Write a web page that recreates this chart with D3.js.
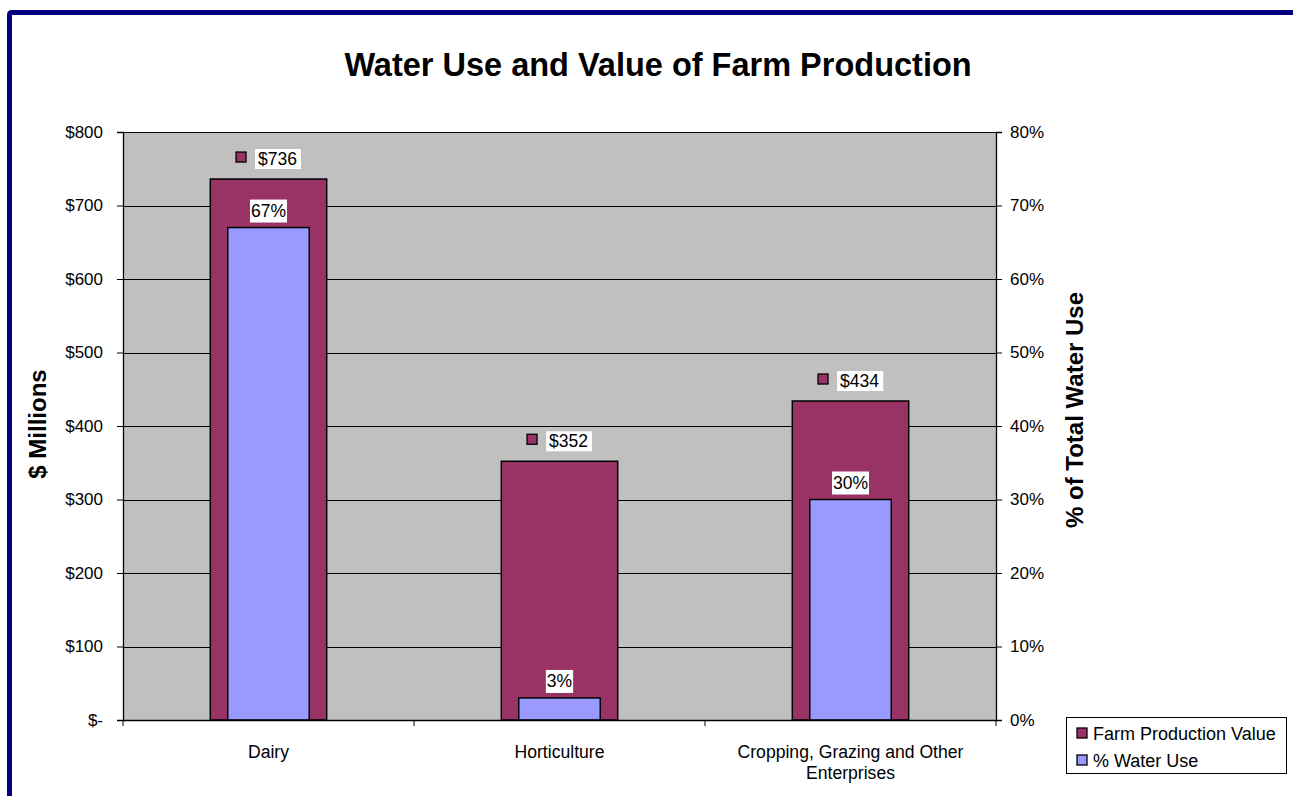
<!DOCTYPE html>
<html>
<head>
<meta charset="utf-8">
<script src="https://cdn.jsdelivr.net/npm/d3@7"></script>
<style>
  html, body { margin: 0; padding: 0; background: #ffffff; overflow: hidden; }
  svg { display: block; font-family: "Liberation Sans", Arial, sans-serif; }
</style>
</head>
<body>
<svg id="chart" width="1293" height="796"></svg>
<script>
// Farm production value ($ millions) and share of total water use, by enterprise
const categories = ["Dairy", "Horticulture", "Cropping, Grazing and Other Enterprises"];
const categoryLines = [["Dairy"], ["Horticulture"], ["Cropping, Grazing and Other", "Enterprises"]];
const productionValue = [736, 352, 434];
const waterUse = [0.67, 0.03, 0.30];
const leftTicks = [0, 100, 200, 300, 400, 500, 600, 700, 800];
const leftTickLabels = ["$-", "$100", "$200", "$300", "$400", "$500", "$600", "$700", "$800"];
const rightTicks = [0, 0.1, 0.2, 0.3, 0.4, 0.5, 0.6, 0.7, 0.8];
const seriesNames = ["Farm Production Value", "% Water Use"];

const colors = { value: "#993366", water: "#9999FF", plot: "#C0C0C0", frame: "#000080" };

const svg = d3.select("#chart");
const plot = { left: 123, right: 996, top: 132, bottom: 720 };

// outer frame
svg.append("rect")
  .attr("x", 9.5).attr("y", 12.5)
  .attr("width", 1400).attr("height", 900)
  .attr("rx", 2)
  .attr("fill", "#ffffff")
  .attr("stroke", colors.frame).attr("stroke-width", 5);

const x = d3.scaleBand().domain(categories).range([plot.left, plot.right]).padding(0);
const yL = d3.scaleLinear().domain([0, 800]).range([plot.bottom, plot.top]);
const yR = d3.scaleLinear().domain([0, 0.8]).range([plot.bottom, plot.top]);

// plot background
svg.append("rect")
  .attr("x", plot.left).attr("y", plot.top)
  .attr("width", plot.right - plot.left).attr("height", plot.bottom - plot.top)
  .attr("fill", colors.plot);

// gridlines
svg.append("g")
  .selectAll("line")
  .data(leftTicks.slice(1))
  .join("line")
  .attr("x1", plot.left).attr("x2", plot.right)
  .attr("y1", d => Math.round(yL(d)) + 0.5).attr("y2", d => Math.round(yL(d)) + 0.5)
  .attr("stroke", "#000").attr("stroke-width", 1);

// production value bars
const outerW = x.bandwidth() * 0.4;
svg.append("g")
  .selectAll("rect")
  .data(categories)
  .join("rect")
  .attr("x", d => x(d) + x.bandwidth() / 2 - outerW / 2)
  .attr("y", (d, i) => yL(productionValue[i]))
  .attr("width", outerW)
  .attr("height", (d, i) => yL(0) - yL(productionValue[i]))
  .attr("fill", colors.value)
  .attr("stroke", "#000").attr("stroke-width", 1.5);

// water use bars (secondary axis)
const innerW = x.bandwidth() * 0.28;
svg.append("g")
  .selectAll("rect")
  .data(categories)
  .join("rect")
  .attr("x", d => x(d) + x.bandwidth() / 2 - innerW / 2)
  .attr("y", (d, i) => yR(waterUse[i]))
  .attr("width", innerW)
  .attr("height", (d, i) => yR(0) - yR(waterUse[i]))
  .attr("fill", colors.water)
  .attr("stroke", "#000").attr("stroke-width", 1.5);

// axes
const leftAxis = d3.axisLeft(yL).tickValues(leftTicks)
  .tickFormat((d, i) => leftTickLabels[i]).tickSize(6).tickPadding(14);
const gL = svg.append("g").attr("transform", `translate(${plot.left},0)`).call(leftAxis);

const rightAxis = d3.axisRight(yR).tickValues(rightTicks)
  .tickFormat(d3.format(".0%")).tickSize(6).tickPadding(8);
const gR = svg.append("g").attr("transform", `translate(${plot.right},0)`).call(rightAxis);

const bottomAxis = d3.axisBottom(x).tickSize(0).tickFormat("");
const gB = svg.append("g").attr("transform", `translate(0,${plot.bottom})`).call(bottomAxis);

[gL, gR, gB].forEach(g => {
  g.select(".domain").attr("stroke", "#000").attr("stroke-width", 1.3);
  g.selectAll(".tick line").attr("stroke", "#000");
  g.selectAll("text").attr("font-size", 17).attr("fill", "#000")
    .attr("font-family", "'Liberation Sans', Arial, sans-serif");
});

// category tick marks at band edges
svg.append("g")
  .selectAll("line")
  .data(categories.concat(["end"]))
  .join("line")
  .attr("x1", (d, i) => plot.left + i * x.bandwidth())
  .attr("x2", (d, i) => plot.left + i * x.bandwidth())
  .attr("y1", plot.bottom).attr("y2", plot.bottom + 6)
  .attr("stroke", "#000");

// category labels
const catG = svg.append("g");
categories.forEach((c, i) => {
  const t = catG.append("text")
    .attr("x", x(c) + x.bandwidth() / 2)
    .attr("y", 758)
    .attr("text-anchor", "middle")
    .attr("font-size", 17.6);
  categoryLines[i].forEach((line, j) => {
    t.append("tspan").attr("x", x(c) + x.bandwidth() / 2).attr("dy", j === 0 ? 0 : 21).text(line);
  });
});

// value labels with legend key
const fmtDollar = d => "$" + d;
categories.forEach((c, i) => {
  const cx = x(c) + x.bandwidth() / 2;
  const cy = yL(productionValue[i]) - 20;
  const g = svg.append("g");
  const txt = g.append("text")
    .attr("x", cx + 9).attr("y", cy + 6)
    .attr("text-anchor", "middle")
    .attr("font-size", 17.5)
    .text(fmtDollar(productionValue[i]));
  const bb = txt.node().getBBox();
  g.insert("rect", "text")
    .attr("x", bb.x - 3).attr("y", cy - 10)
    .attr("width", bb.width + 7).attr("height", 20)
    .attr("fill", "#fff");
  g.append("rect")
    .attr("x", bb.x - 22).attr("y", cy - 7)
    .attr("width", 10).attr("height", 10)
    .attr("fill", colors.value).attr("stroke", "#000").attr("stroke-width", 1.3);
});

categories.forEach((c, i) => {
  const cx = x(c) + x.bandwidth() / 2;
  const cy = yR(waterUse[i]) - 17;
  const g = svg.append("g");
  const txt = g.append("text")
    .attr("x", cx).attr("y", cy + 6)
    .attr("text-anchor", "middle")
    .attr("font-size", 17.5)
    .text(d3.format(".0%")(waterUse[i]));
  const bb = txt.node().getBBox();
  g.insert("rect", "text")
    .attr("x", bb.x - 1).attr("y", cy - 11)
    .attr("width", bb.width + 2).attr("height", 23)
    .attr("fill", "#fff");
});

// title
svg.append("text")
  .attr("x", 658).attr("y", 76)
  .attr("text-anchor", "middle")
  .attr("font-size", 32.5).attr("font-weight", "bold")
  .text("Water Use and Value of Farm Production");

// axis titles
svg.append("text")
  .attr("transform", "translate(46,424) rotate(-90)")
  .attr("text-anchor", "middle")
  .attr("font-size", 24).attr("font-weight", "bold")
  .text("$ Millions");
svg.append("text")
  .attr("transform", "translate(1083,410) rotate(-90)")
  .attr("text-anchor", "middle")
  .attr("font-size", 24).attr("font-weight", "bold")
  .text("% of Total Water Use");

// legend
const legend = svg.append("g");
legend.append("rect")
  .attr("x", 1066.5).attr("y", 717.5).attr("width", 220).attr("height", 56)
  .attr("fill", "#fff").attr("stroke", "#000").attr("stroke-width", 1);
[colors.value, colors.water].forEach((col, i) => {
  const yy = 734 + i * 27;
  legend.append("rect")
    .attr("x", 1077).attr("y", yy - 6).attr("width", 10).attr("height", 10)
    .attr("fill", col).attr("stroke", "#000").attr("stroke-width", 1.3);
  legend.append("text")
    .attr("x", 1093).attr("y", yy + 6)
    .attr("font-size", 18)
    .text(seriesNames[i]);
});
</script>
</body>
</html>
